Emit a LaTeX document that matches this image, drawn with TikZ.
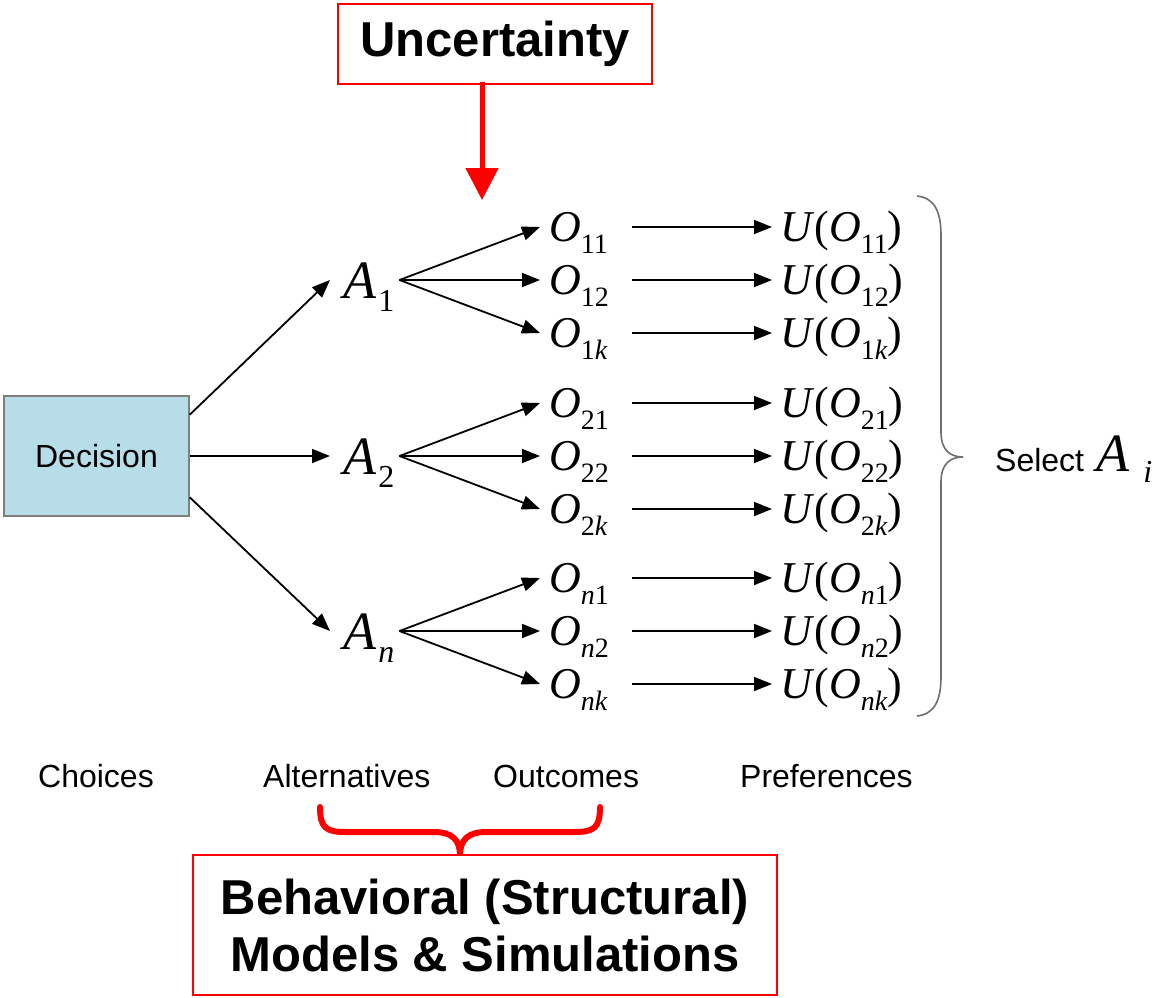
\documentclass[tikz,border=0pt]{standalone}
\usepackage{fontspec}
\setmainfont{Liberation Sans}
\newfontfamily\tms{Liberation Serif}
\usetikzlibrary{arrows.meta,calc}

% font size helper (sizes in pt, one pt per pixel of the drawing)
\newcommand{\fs}[1]{\fontsize{#1}{#1}\selectfont}
% italic symbol with a lowered subscript: size, letter, sub size, drop, subscript
\newcommand{\msym}[5]{{\tms\fs{#1}\textit{#2}\raisebox{-#4pt}{\fs{#3}#5}}}
\newcommand{\Ov}[1]{\msym{44}{O}{28}{12}{#1}}
\newcommand{\Av}[1]{\msym{54}{A}{32}{13}{\hspace{2pt}#1}}
\newcommand{\Uv}[1]{{\tms\fs{44}\textit{U}(\textit{O}\raisebox{-12pt}{\fs{28}#1})}}

\definecolor{decfill}{HTML}{B7DDE8}
\definecolor{decline}{HTML}{7F7F7F}
\definecolor{bracegray}{HTML}{6E6E6E}

\begin{document}
\begin{tikzpicture}[x=1pt,y=-1pt,
  arr/.style={line width=1.8pt, -{Triangle[length=18pt,width=14pt]}},
  anode/.style={anchor=west, inner xsep=10pt, inner ysep=0pt, text width=46pt,
    align=left, text height=36pt, text depth=0pt},
  onode/.style={anchor=west, inner xsep=9pt, inner ysep=0pt, text width=74pt,
    align=left, text height=29pt, text depth=0pt},
  unode/.style={anchor=west, inner xsep=8pt, inner ysep=0pt, text height=29pt,
    text depth=0pt},
  redbox/.style={draw=red, line width=2pt, inner sep=0pt},
  lbl/.style={anchor=base west, inner sep=0pt, font=\fs{32}},
]
\useasboundingbox (0,0) rectangle (1160,997);

% top box and its arrow
\node[redbox, minimum width=314pt, minimum height=80pt, font=\bfseries\fs{49}]
  (unc) at (495,44) {Uncertainty};
\coordinate (hit) at (482,200);
\draw[red, line width=5pt, -{Triangle[length=32pt,width=32pt]}]
  ([yshift=3pt]unc.south -| hit) -- (hit);

% decision box
\node[draw=decline, fill=decfill, line width=1.5pt, minimum width=185pt,
  minimum height=120pt, font=\fs{32}] (dec) at (96.5,456) {Decision};

% alternatives, outcomes and utilities
\foreach \g/\s/\ay in {1/1/280, 2/2/456, n/{\textit{n}}/631} {
  \node[anode] (A\g) at (333,\ay) {\Av{\s}};
  \foreach \j/\t/\dy in {1/1/-53, 2/2/0, k/{\textit{k}}/53} {
    \node[onode] (O\g\j) at (540,\ay+\dy) {\Ov{\s\t}};
    \node[unode] (U\g\j) at (772,\ay+\dy) {\Uv{\s\t}};
    \draw[arr] (A\g.east) -- (O\g\j.west);
    \draw[arr] (O\g\j.east) -- (U\g\j.west);
  }
}

\draw[arr] ($(dec.north east)!0.16!(dec.south east)$) -- ([xshift=-3pt]A1.west);
\draw[arr] (dec.east) -- ([xshift=-3pt]A2.west);
\draw[arr] ($(dec.north east)!0.84!(dec.south east)$) -- ([xshift=-3pt]An.west);

% brace gathering all utilities
\draw[bracegray, line width=1.6pt]
  (917,196) .. controls (935,198) and (941,212) .. (941,236)
  -- (941,432) .. controls (941,450) and (950,457) .. (963,457)
  .. controls (950,457) and (941,464) .. (941,482)
  -- (941,676) .. controls (941,700) and (935,714) .. (917,716);
\node[lbl] (sel) at (995,471)
  {Select\hspace{12pt}{\tms\fs{54}\textit{A}\hspace{14pt}\raisebox{-11pt}{\fs{32}\textit{i}}}};

% column captions
\node[lbl] (choices) at (38,787) {Choices};
\node[lbl] (alts) at (263,787) {Alternatives};
\node[lbl] (outs) at (493,787) {Outcomes};
\node[lbl] (prefs) at (740,787) {Preferences};

% bottom box and red brace
\node[redbox, minimum width=584pt, minimum height=140pt, align=center,
  font=\bfseries\fontsize{49}{57}\selectfont] (beh) at (485,925)
  {Behavioral (Structural)\\Models \& Simulations};
\draw[red, line width=6pt, line cap=round]
  (320,807) .. controls (320,828) and (326,832) .. (346,832) -- (434,832)
  .. controls (452,832) and (460,840) .. (460,855)
  .. controls (460,840) and (468,832) .. (486,832) -- (574,832)
  .. controls (594,832) and (600,828) .. (600,807);
\end{tikzpicture}
\end{document}
